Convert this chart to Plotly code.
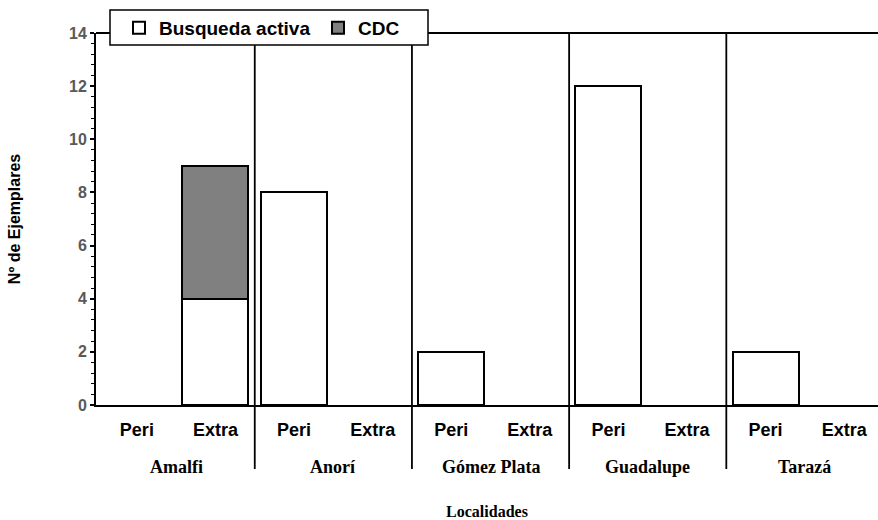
import plotly.graph_objects as go

# Localidades y zonas (peridomicilio / extradomicilio)
localidades = ["Amalfi", "Anorí", "Gómez Plata", "Guadalupe", "Tarazá"]
zonas = ["Peri", "Extra"]

# Nº de ejemplares por método de captura, en orden localidad x zona
busqueda_activa = [0, 4, 8, 0, 2, 0, 12, 0, 2, 0]
cdc = [0, 5, 0, 0, 0, 0, 0, 0, 0, 0]

y_ticks = [0, 2, 4, 6, 8, 10, 12, 14]

SANS = "Liberation Sans, Arial, sans-serif"
SERIF = "Liberation Serif, Times New Roman, serif"

x_pos = list(range(len(localidades) * len(zonas)))
tick_text = zonas * len(localidades)


def no_zero(values):
    # las barras vacias no se dibujan
    return [v if v else None for v in values]


fig = go.Figure()
fig.add_trace(
    go.Bar(
        x=x_pos,
        y=no_zero(busqueda_activa),
        name="<b>Busqueda activa</b>",
        marker=dict(color="white", line=dict(color="black", width=2)),
        width=0.84,
    )
)
fig.add_trace(
    go.Bar(
        x=x_pos,
        y=no_zero(cdc),
        name="<b>CDC</b>",
        marker=dict(color="#808080", line=dict(color="black", width=2)),
        width=0.84,
    )
)

# separadores entre localidades
for i in range(1, len(localidades)):
    fig.add_shape(
        type="line",
        xref="x",
        yref="paper",
        x0=i * 2 - 0.5,
        x1=i * 2 - 0.5,
        y0=-0.172,
        y1=1,
        line=dict(color="black", width=1.8),
    )

# linea superior
fig.add_shape(
    type="line", xref="paper", yref="paper", x0=0, x1=1, y0=1, y1=1,
    line=dict(color="black", width=1.8),
)

# recuadro de la leyenda
fig.add_shape(
    type="rect", xref="paper", yref="paper",
    x0=(110 - 96) / 782, x1=(428 - 96) / 782,
    y0=1 - 12 / 372, y1=1 + 23 / 372,
    fillcolor="white", line=dict(color="black", width=1.5),
)

# nombres de localidades
for i, loc in enumerate(localidades):
    fig.add_annotation(
        x=i * 2 + 0.5,
        y=-62 / 372,
        xref="x",
        yref="paper",
        yanchor="middle",
        text=f"<b>{loc}</b>",
        showarrow=False,
        font=dict(family=SERIF, size=18, color="black"),
    )

fig.update_layout(
    width=878,
    height=520,
    barmode="stack",
    plot_bgcolor="white",
    paper_bgcolor="white",
    margin=dict(l=96, r=0, t=33, b=115, autoexpand=False),
    xaxis=dict(
        range=[-0.52, 9.43],
        tickvals=x_pos,
        ticktext=[f"<b>{t}</b>" for t in tick_text],
        tickfont=dict(family=SANS, size=18, color="black"),
        ticklabelstandoff=7,
        showline=True,
        linecolor="black",
        linewidth=1.8,
        ticks="",
        showgrid=False,
        zeroline=False,
        automargin=False,
        title=dict(
            text="<b>Localidades</b>",
            font=dict(family=SERIF, size=16, color="black"),
            standoff=72,
        ),
    ),
    yaxis=dict(
        range=[0, 14],
        tickvals=y_ticks,
        ticktext=[f"<b>{v}</b>" for v in y_ticks],
        tickfont=dict(family=SANS, size=16, color="#595959"),
        showline=True,
        linecolor="black",
        linewidth=1.8,
        ticks="outside",
        ticklen=4,
        tickwidth=1.5,
        tickcolor="black",
        minor=dict(dtick=0.4, ticks="outside", ticklen=3, tickwidth=1.2, tickcolor="black"),
        showgrid=False,
        zeroline=False,
        automargin=False,
        title=dict(
            text="<b>Nº de Ejemplares</b>",
            font=dict(family=SANS, size=16, color="black"),
            standoff=45,
        ),
    ),
    legend=dict(
        orientation="h",
        x=(119 - 96) / 782,
        y=1 + 5 / 372,
        xanchor="left",
        yanchor="middle",
        bgcolor="rgba(0,0,0,0)",
        borderwidth=0,
        font=dict(family=SANS, size=19, color="black"),
        traceorder="normal",
        entrywidth=154,
    ),
)

fig.write_html(
    "out.html",
    config={"displayModeBar": False},
    post_script="document.body.style.margin='0';",
)
